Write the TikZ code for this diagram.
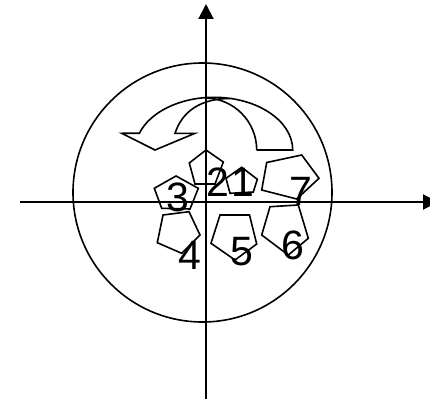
\documentclass[tikz,border=0pt]{standalone}
\usepackage{fontspec}
\setmainfont{Liberation Sans}
\usetikzlibrary{arrows.meta}
\begin{document}
\begin{tikzpicture}[x=1pt,y=-1pt,
  axis/.style={line width=2pt,-{Triangle[length=15pt,width=15pt]}},
  outl/.style={line width=1.6pt,line join=miter},
  digit/.style={inner sep=0pt,font=\fontsize{41}{41}\selectfont}]
\useasboundingbox (0,0) rectangle (430,401);
\clip (0,0) rectangle (430,401);
% circle
\draw[outl] (202.5,192.5) circle[radius=129.5];
% axes
\coordinate (xs) at (20,202);
\coordinate (xe) at (438,202);
\coordinate (ys) at (206,399);
\coordinate (ye) at (206,4);
\draw[axis] (xs) -- (xe);
\draw[axis] (ys) -- (ye);
% curved arrow
\draw[outl] (256.7,150) -- (292.7,150)
  arc[start angle=0,end angle=-161.5,x radius=78.7,y radius=52.7]
  -- (121.7,133.3) -- (155,150) -- (195,133.3) -- (175,133.3)
  .. controls (182,112) and (200,98) .. (232,98.5);
\draw[outl] (256.7,150) arc[start angle=0,end angle=-90,x radius=52,y radius=52];
% pentagons
\draw[outl] (206,150) -- (223.3,162) -- (215,184) -- (195,184) -- (189.3,163) -- cycle;
\draw[outl] (241.7,167.3) -- (257.3,179.3) -- (253.3,192) -- (230,193.3) -- (226,178.3) -- cycle;
\draw[outl] (176,176) -- (198.3,188.3) -- (190,209) -- (161.7,208.3) -- (154.3,188.3) -- cycle;
\draw[outl] (163,215) -- (189,211.7) -- (200,235) -- (181.7,253.3) -- (157.3,242.7) -- cycle;
\draw[outl] (220,215) -- (249.5,215) -- (256.7,244) -- (235,260) -- (211,243.3) -- cycle;
\draw[outl] (270,206.7) -- (298.3,205) -- (308.3,238.3) -- (288.3,255) -- (261.7,235) -- cycle;
\draw[outl] (266.7,162.5) -- (301.7,155) -- (319,178.3) -- (296.7,199) -- (261.7,190) -- cycle;
% labels
\node[digit] (l3) at (178,197) {3};
\node[digit] (l2) at (217.5,182.5) {2};
\node[digit] (l1) at (242.5,182.5) {1};
\node[digit] (l7) at (301,191.5) {7};
\node[digit] (l4) at (189.5,255.5) {4};
\node[digit] (l5) at (241.5,252) {5};
\node[digit] (l6) at (293,245) {6};
\end{tikzpicture}
\end{document}
